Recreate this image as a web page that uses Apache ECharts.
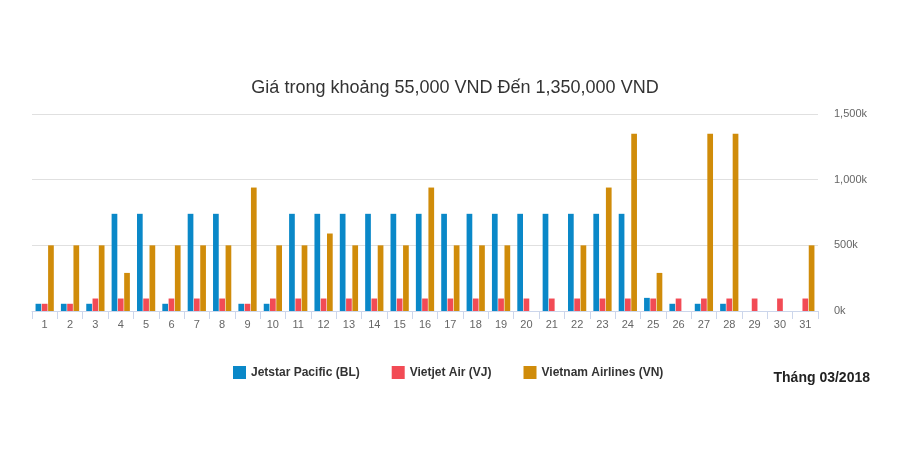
<!DOCTYPE html>
<html>
<head>
<meta charset="utf-8">
<script src="https://cdn.jsdelivr.net/npm/echarts/dist/echarts.min.js"></script>
<style>html,body{margin:0;padding:0;background:#fff}#chart{width:900px;height:471px}</style>
</head>
<body>
<div id="chart"></div>
<script>
var days = []
for (var d = 1; d <= 31; d++) days.push(String(d))

var jetstar = [55, 55, 55, 740, 740, 55, 740, 740, 55, 55, 740, 740, 740, 740, 740, 740, 740, 740, 740, 740, 740, 740, 740, 740, 100, 55, 55, 55, null, null, null]
var vietjet = [55, 55, 95, 95, 95, 95, 95, 95, 55, 95, 95, 95, 95, 95, 95, 95, 95, 95, 95, 95, 95, 95, 95, 95, 95, 95, 95, 95, 95, 95, 95]
var vietnamAirlines = [500, 500, 500, 290, 500, 500, 500, 500, 940, 500, 500, 590, 500, 500, 500, 940, 500, 500, 500, null, null, 500, 940, 1350, 290, null, 1350, 1350, null, null, 500]

var chart = echarts.init(document.getElementById('chart'))
var fontFam = 'Arial, "Liberation Sans", sans-serif'

chart.setOption({
	animation: false,
	textStyle: { fontFamily: fontFam },
	title: {
		text: 'Giá trong khoảng 55,000 VND Đến 1,350,000 VND',
		left: 450, top: 74, textAlign: 'center',
		textStyle: { fontSize: 18, fontWeight: 'normal', color: '#333' }
	},
	legend: {
		top: 361, left: 228, itemGap: 32, itemWidth: 13, itemHeight: 13,
		icon: 'rect',
		textStyle: { fontSize: 12, fontWeight: 'bold', color: '#333' }
	},
	graphic: [{
		type: 'text', right: 30, top: 371,
		style: { text: 'Tháng 03/2018', font: 'bold 14px ' + fontFam, fill: '#222' }
	}],
	grid: { left: 32, right: 82, top: 114, bottom: 160 },
	xAxis: {
		type: 'category', data: days,
		axisLine: { lineStyle: { color: '#ccd6eb' } },
		axisTick: { show: true, length: 8, lineStyle: { color: '#ccd6eb' } },
		axisLabel: { color: '#666', fontSize: 11, interval: 0 }
	},
	yAxis: {
		type: 'value', position: 'right', min: 0, max: 1500, interval: 500,
		axisLabel: { color: '#666', fontSize: 11, margin: 16, formatter: function (v) { return v.toLocaleString('en-US') + 'k' } },
		splitLine: { lineStyle: { color: '#e0e0e0' } }
	},
	series: [
		{ name: 'Jetstar Pacific (BL)', type: 'bar', data: jetstar, itemStyle: { color: '#0a88c8' }, barGap: '10%', barCategoryGap: '28%' },
		{ name: 'Vietjet Air (VJ)', type: 'bar', data: vietjet, itemStyle: { color: '#f24b55' } },
		{ name: 'Vietnam Airlines (VN)', type: 'bar', data: vietnamAirlines, itemStyle: { color: '#d08c0a' } }
	]
})
</script>
</body>
</html>
